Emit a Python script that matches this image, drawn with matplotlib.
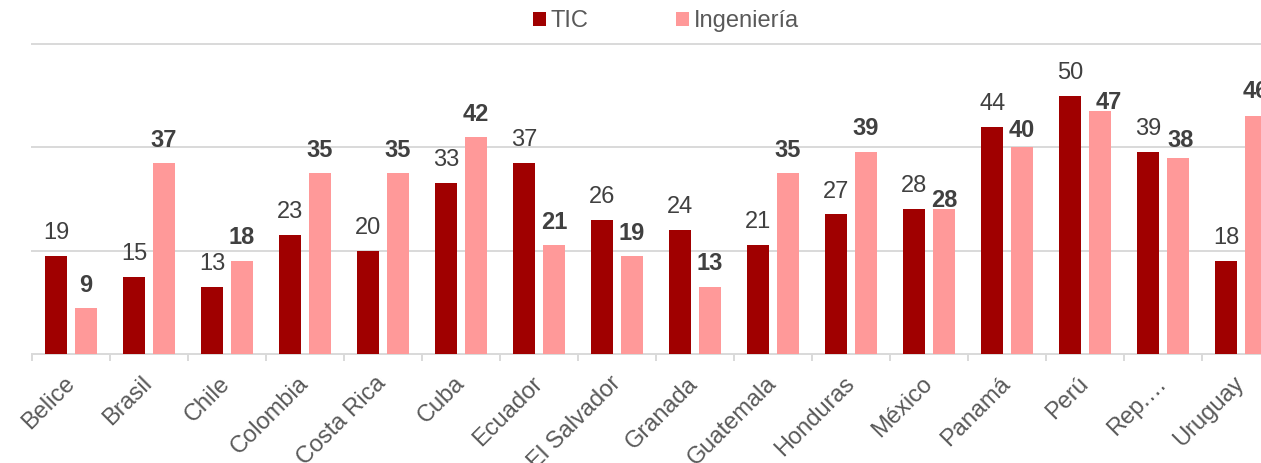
import matplotlib
matplotlib.use("Agg")
import matplotlib.pyplot as plt
import numpy as np
from matplotlib.patches import Patch

plt.rcParams['font.family'] = ['Liberation Sans', 'DejaVu Sans']

categories = ["Belice", "Brasil", "Chile", "Colombia", "Costa Rica", "Cuba", "Ecuador",
              "El Salvador", "Granada", "Guatemala", "Honduras", "México", "Panamá",
              "Perú", "Rep.…", "Uruguay"]
tic = [19, 15, 13, 23, 20, 33, 37, 26, 24, 21, 27, 28, 44, 50, 39, 18]
ingenieria = [9, 37, 18, 35, 35, 42, 21, 19, 13, 35, 39, 28, 40, 47, 38, 46]
series_names = ["TIC", "Ingeniería"]
yticks = [0, 20, 40, 60]

# label offsets in pixels (dx, gap above bar) for Ingeniería labels
ing_label_dx = [0, 0, 0, 0, 0, 0, 0, 0, 0, 0, 0, 0, 0, 9, 3, 0]
ing_label_gap = [16, 16, 17, 16, 16, 16, 16, 16, 17, 16, 17, 2, 10, 2, 11, 18]

C_TIC = "#A00000"
C_ING = "#FF9999"
C_GRID = "#D9D9D9"
FS = 17

W, H = 1261, 463
fig = plt.figure(figsize=(W / 100, H / 100), dpi=100)
ax_left, ax_right, ax_bottom, ax_top = 32, 1280, 354, 44
ax = fig.add_axes([ax_left / W, (H - ax_bottom) / H, (ax_right - ax_left) / W,
                   (ax_bottom - ax_top) / H])

x = np.arange(len(categories))
bw = 0.29
off = 0.19
ax.bar(x - off, tic, bw, color=C_TIC, zorder=3)
ax.bar(x + off, ingenieria, bw, color=C_ING, zorder=3)

ax.set_xlim(-0.5, len(categories) - 0.5)
ax.set_ylim(yticks[0], yticks[-1])

for y in yticks[1:]:
    ax.axhline(y, color=C_GRID, lw=1.4, zorder=1, clip_on=False)

for s in ["top", "right", "left"]:
    ax.spines[s].set_visible(False)
ax.spines["bottom"].set_color(C_GRID)
ax.spines["bottom"].set_linewidth(1.4)
ax.set_yticks([])

ax.set_xticks(x)
ax.set_xticklabels(categories, rotation=45, ha="right", va="center",
                   rotation_mode="anchor", fontsize=FS, color="#595959")
ax.tick_params(axis="x", which="major", length=0, pad=19)
ax.set_xticks(np.arange(len(categories) + 1) - 0.5, minor=True)
ax.tick_params(axis="x", which="minor", length=5, width=1.4, color=C_GRID, direction="out")

for i in range(len(categories)):
    ax.annotate(str(tic[i]), (x[i] - off, tic[i]), xytext=(0, 17),
                textcoords="offset pixels", ha="center", va="baseline",
                fontsize=FS, color="#404040", annotation_clip=False, zorder=4)
    ax.annotate(str(ingenieria[i]), (x[i] + off, ingenieria[i]),
                xytext=(ing_label_dx[i], ing_label_gap[i]),
                textcoords="offset pixels", ha="center", va="baseline",
                fontsize=FS, fontweight="bold", color="#404040",
                annotation_clip=False, zorder=4)

handles = [Patch(facecolor=C_TIC), Patch(facecolor=C_ING)]
fig.legend(handles, series_names, loc="center", bbox_to_anchor=(666 / W, 1 - 21 / H),
           ncol=2, frameon=False, fontsize=FS, handlelength=0.55, handleheight=0.55,
           handletextpad=0.2, columnspacing=3.7, labelcolor="#595959",
           borderpad=0, borderaxespad=0)

fig.savefig("out.png", dpi=100)
